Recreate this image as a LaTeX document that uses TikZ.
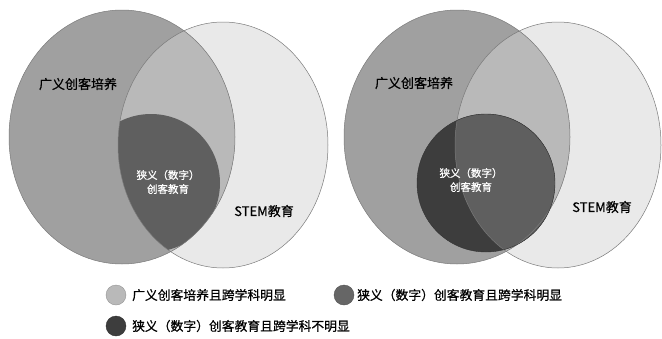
\documentclass[tikz,border=0pt]{standalone}
\usepackage{fontspec}
\setmainfont{Noto Sans CJK SC}[FakeBold=0.6]
\definecolor{broadc}{HTML}{A0A0A0}
\definecolor{stemc}{HTML}{E9E9E9}
\definecolor{overc}{HTML}{B9B9B9}
\definecolor{narrowc}{HTML}{5F5F5F}
\definecolor{darkc}{HTML}{3D3D3D}
\definecolor{edgec}{HTML}{7A7A7A}
\definecolor{legmid}{HTML}{666666}
\tikzset{
  lbl/.style={inner sep=0pt, font=\fontsize{13}{15}\selectfont},
  inlbl/.style={inner sep=0pt, align=center, text=white, font=\fontsize{10.5}{14}\selectfont},
  leglbl/.style={inner sep=0pt, anchor=west, font=\fontsize{12.8}{15}\selectfont},
  legdot/.style={circle, minimum size=20pt, inner sep=0pt, draw=#1!80!black, line width=0.4pt, fill=#1},
}
\begin{document}
\begin{tikzpicture}[x=1pt,y=-1pt]
\useasboundingbox (0,0) rectangle (662,338);
% ---------- left diagram ----------
\fill[stemc] (223,145) ellipse [x radius=105, y radius=123];
\fill[broadc] (122,137) ellipse [x radius=113, y radius=127];
\begin{scope}
  \clip (223,145) ellipse [x radius=105, y radius=123];
  \fill[overc] (122,137) ellipse [x radius=113, y radius=127];
  \clip (122,137) ellipse [x radius=113, y radius=127];
  \fill[narrowc] (151,183) circle [radius=69];
\end{scope}
\draw[edgec, line width=0.5pt] (223,145) ellipse [x radius=105, y radius=123];
\draw[edgec, line width=0.5pt] (122,137) ellipse [x radius=113, y radius=127];
\node[lbl] (bL) at (78,84) {广义创客培养};
\node[inlbl] (nL) at (168,182) {狭义（数字）\\创客教育};
\node[lbl] (sL) at (264,211) {STEM教育};
% ---------- right diagram ----------
\fill[stemc] (558,145) ellipse [x radius=103, y radius=123];
\fill[broadc] (457,137) ellipse [x radius=113, y radius=127];
\begin{scope}
  \clip (558,145) ellipse [x radius=103, y radius=123];
  \fill[overc] (457,137) ellipse [x radius=113, y radius=127];
\end{scope}
\fill[darkc] (486,183) circle [radius=69];
\begin{scope}
  \clip (558,145) ellipse [x radius=103, y radius=123];
  \fill[narrowc] (486,183) circle [radius=69];
\end{scope}
\draw[edgec, line width=0.5pt] (558,145) ellipse [x radius=103, y radius=123];
\draw[edgec, line width=0.5pt] (457,137) ellipse [x radius=113, y radius=127];
\draw[darkc!80!black, line width=0.4pt] (486,183) circle [radius=69];
\node[lbl] (bR) at (414,83) {广义创客培养};
\node[inlbl] (nR) at (471,180) {狭义（数字）\\创客教育};
\node[lbl] (sR) at (602,207) {STEM教育};
% ---------- legend ----------
\node[legdot=overc] (d1) at (116,295) {};
\node[leglbl] (t1) at (132,295) {广义创客培养且跨学科明显};
\node[legdot=legmid] (d2) at (344,295) {};
\node[leglbl] (t2) at (357,295) {狭义（数字）创客教育且跨学科明显};
\node[legdot=darkc] (d3) at (116,326) {};
\node[leglbl] (t3) at (132,326) {狭义（数字）创客教育且跨学科不明显};
\end{tikzpicture}
\end{document}
